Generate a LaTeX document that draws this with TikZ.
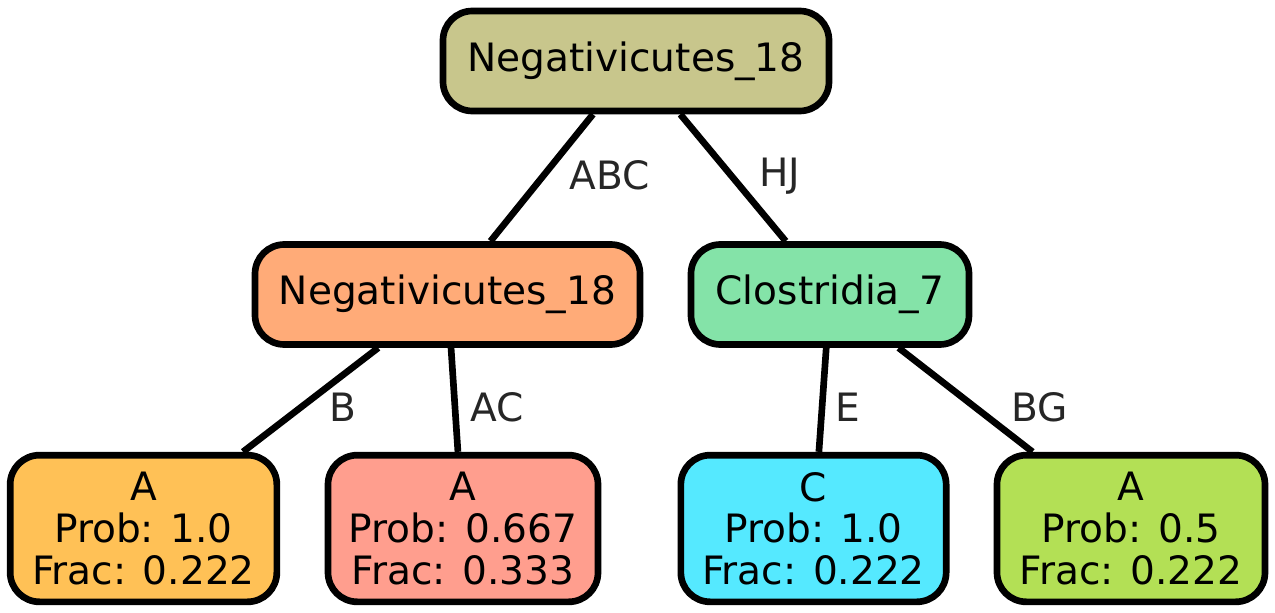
\documentclass[tikz,border=0pt]{standalone}
\usepackage{fontspec}
\setmainfont{DejaVu Sans}
\begin{document}
\begin{tikzpicture}[x=0.75pt,y=-0.75pt,
  box/.style={draw=black, line width=5pt, rounded corners=22pt, inner sep=0pt,
    font=\fontsize{29.3}{31.2}\selectfont, align=center, text=black},
  lbl/.style={inner sep=0pt, text=black!85, font=\fontsize{29.3}{31.2}\selectfont},
  edge/.style={draw=black, line width=5pt}]
\useasboundingbox (0,0) rectangle (1275,613);
\definecolor{cRoot}{HTML}{C8C68C}
\definecolor{cML}{HTML}{FFAB78}
\definecolor{cMR}{HTML}{84E3A8}
\definecolor{cL1}{HTML}{FFC156}
\definecolor{cL2}{HTML}{FF9E8E}
\definecolor{cL3}{HTML}{55E9FF}
\definecolor{cL4}{HTML}{B3E055}

\node[box, fill=cRoot, minimum width=289.5pt, minimum height=75pt] (root) at (636,61) {Negativicutes\_18};
\node[box, fill=cML, minimum width=288.75pt, minimum height=75pt] (ml) at (447.5,294.5) {Negativicutes\_18};
\node[box, fill=cMR, minimum width=208.5pt, minimum height=75pt] (mr) at (830,294.5) {Clostridia\_7};

\node[box, fill=cL1, minimum width=200pt, minimum height=110pt] (l1) at (143.5,528.5) {A\\Prob: 1.0\\Frac: 0.222};
\node[box, fill=cL2, minimum width=202.5pt, minimum height=110pt] (l2) at (463,528.5) {A\\Prob: 0.667\\Frac: 0.333};
\node[box, fill=cL3, minimum width=199pt, minimum height=110pt] (l3) at (813.5,528.5) {C\\Prob: 1.0\\Frac: 0.222};
\node[box, fill=cL4, minimum width=201pt, minimum height=110pt] (l4) at (1131,528.5) {A\\Prob: 0.5\\Frac: 0.222};

\draw[edge] (root) -- (ml);
\draw[edge] (root) -- (mr);
\draw[edge] (ml) -- (l1);
\draw[edge] (ml) -- (l2);
\draw[edge] (mr) -- (l3);
\draw[edge] (mr) -- (l4);

\node[lbl] (tABC) at (610,175) {ABC};
\node[lbl] (tHJ) at (780,176) {HJ};
\node[lbl] (tB) at (343,407) {B};
\node[lbl] (tAC) at (497,407) {AC};
\node[lbl] (tE) at (848,407) {E};
\node[lbl] (tBG) at (1040,407) {BG};
\end{tikzpicture}
\end{document}
